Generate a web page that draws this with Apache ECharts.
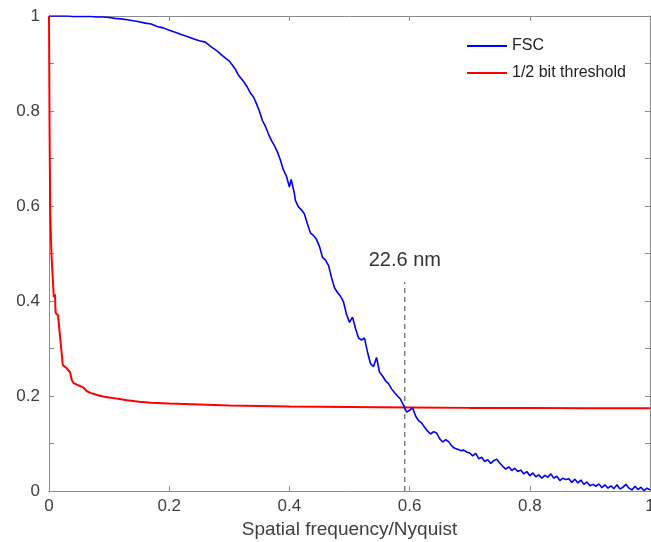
<!DOCTYPE html>
<html>
<head>
<meta charset="utf-8">
<script src="https://cdn.jsdelivr.net/npm/echarts@6.0.0/dist/echarts.min.js"></script>
<style>
  html, body { margin: 0; padding: 0; background: #fff; }
  #chart-container { width: 651px; height: 542px; }
</style>
</head>
<body>
<div id="chart-container"></div>
<script>
// FSC curve [spatial frequency / Nyquist, correlation]
var fscPoints = [
  [0, 1.000], [0.01, 1.000], [0.02, 1.000], [0.03, 1.000], [0.04, 0.999], [0.05, 0.999],
  [0.06, 0.999], [0.07, 0.999], [0.08, 0.998], [0.09, 0.998], [0.10, 0.997], [0.11, 0.995],
  [0.12, 0.994], [0.13, 0.992], [0.14, 0.990], [0.15, 0.988], [0.16, 0.985], [0.17, 0.983],
  [0.18, 0.978], [0.19, 0.975], [0.20, 0.970], [0.21, 0.966], [0.22, 0.961], [0.23, 0.957],
  [0.24, 0.952], [0.25, 0.948], [0.26, 0.945], [0.27, 0.935], [0.28, 0.926], [0.29, 0.915],
  [0.30, 0.905], [0.305, 0.897], [0.31, 0.888], [0.315, 0.876], [0.32, 0.868], [0.325, 0.860],
  [0.33, 0.850], [0.335, 0.838], [0.34, 0.830], [0.345, 0.816], [0.35, 0.800], [0.355, 0.780],
  [0.36, 0.768], [0.365, 0.752], [0.37, 0.738], [0.375, 0.727], [0.38, 0.714], [0.385, 0.697],
  [0.39, 0.676], [0.395, 0.663], [0.40, 0.640], [0.403, 0.656], [0.408, 0.628], [0.41, 0.612],
  [0.415, 0.598], [0.42, 0.592], [0.425, 0.583], [0.43, 0.562], [0.435, 0.543], [0.44, 0.538],
  [0.445, 0.530], [0.45, 0.515], [0.455, 0.492], [0.46, 0.486], [0.465, 0.475], [0.47, 0.450],
  [0.475, 0.428], [0.48, 0.418], [0.485, 0.410], [0.49, 0.398], [0.495, 0.372], [0.50, 0.355],
  [0.505, 0.366], [0.51, 0.342], [0.515, 0.322], [0.52, 0.318], [0.525, 0.322], [0.53, 0.292],
  [0.535, 0.268], [0.54, 0.262], [0.545, 0.281], [0.55, 0.250], [0.555, 0.242], [0.56, 0.232],
  [0.565, 0.226], [0.57, 0.215], [0.575, 0.207], [0.58, 0.200], [0.585, 0.193], [0.59, 0.180],
  [0.595, 0.166], [0.60, 0.170], [0.605, 0.175], [0.61, 0.158], [0.615, 0.148], [0.62, 0.143],
  [0.625, 0.134], [0.63, 0.126], [0.635, 0.120], [0.64, 0.125], [0.645, 0.122], [0.65, 0.110],
  [0.655, 0.103], [0.66, 0.108], [0.665, 0.104], [0.67, 0.095], [0.675, 0.090], [0.68, 0.088],
  [0.685, 0.085], [0.69, 0.086], [0.695, 0.082], [0.70, 0.080], [0.705, 0.074], [0.71, 0.079],
  [0.715, 0.068], [0.72, 0.071], [0.725, 0.062], [0.73, 0.066], [0.735, 0.058], [0.74, 0.064],
  [0.745, 0.067], [0.75, 0.059], [0.755, 0.052], [0.76, 0.046], [0.765, 0.051], [0.77, 0.043],
  [0.775, 0.048], [0.78, 0.041], [0.785, 0.044], [0.79, 0.036], [0.795, 0.041], [0.80, 0.032],
  [0.805, 0.038], [0.81, 0.030], [0.815, 0.034], [0.82, 0.027], [0.825, 0.033], [0.83, 0.029],
  [0.835, 0.036], [0.84, 0.027], [0.845, 0.031], [0.85, 0.022], [0.855, 0.027], [0.86, 0.024],
  [0.865, 0.026], [0.87, 0.018], [0.875, 0.025], [0.88, 0.017], [0.885, 0.023], [0.89, 0.014],
  [0.895, 0.019], [0.90, 0.011], [0.905, 0.014], [0.91, 0.010], [0.915, 0.015], [0.92, 0.007],
  [0.925, 0.013], [0.93, 0.006], [0.935, 0.011], [0.94, 0.005], [0.945, 0.013], [0.95, 0.004],
  [0.955, 0.008], [0.96, 0.014], [0.965, 0.006], [0.97, 0.002], [0.975, 0.010], [0.98, 0.003],
  [0.985, 0.008], [0.99, 0.001], [0.995, 0.006], [1.00, 0.002]
];

// 1/2 bit threshold curve
var thresholdPoints = [
  [0, 1.000], [0.001, 0.750], [0.002, 0.590], [0.004, 0.501], [0.008, 0.408], [0.010, 0.414],
  [0.011, 0.375], [0.015, 0.370], [0.023, 0.265], [0.029, 0.259], [0.035, 0.250], [0.038, 0.233],
  [0.041, 0.227], [0.050, 0.222], [0.057, 0.218], [0.063, 0.210], [0.07, 0.206], [0.08, 0.202],
  [0.09, 0.199], [0.10, 0.197], [0.11, 0.195], [0.12, 0.193], [0.13, 0.191], [0.15, 0.188],
  [0.17, 0.186], [0.20, 0.184], [0.25, 0.182], [0.30, 0.180], [0.40, 0.178], [0.50, 0.177],
  [0.60, 0.176], [0.70, 0.175], [0.80, 0.175], [0.90, 0.174], [1.00, 0.174]
];

// resolution cut-off marker
var cutoffX = 0.592;
var cutoffTop = 0.44;
var cutoffLabel = "22.6 nm";

var seriesNames = ["FSC", "1/2 bit threshold"];
var seriesColors = ["#0000ff", "#ff0000"];

var axisColor = "#8a8a8a";
var textColor = "#404040";
var font = "Liberation Sans, Arial, sans-serif";

var chart = echarts.init(document.getElementById("chart-container"), null, { renderer: "canvas" });

function baseAxis(extra) {
  var ax = {
    type: "value",
    min: 0,
    max: 1,
    interval: 0.2,
    axisLine: { show: true, onZero: false, lineStyle: { color: axisColor, width: 1 } },
    axisTick: { show: true, inside: true, length: 5, lineStyle: { color: axisColor } },
    splitLine: { show: false },
    axisLabel: { show: false }
  };
  return Object.assign(ax, extra);
}

var labelStyle = { show: true, color: textColor, fontSize: 17, fontFamily: font };

var option = {
  animation: false,
  backgroundColor: "#fff",
  grid: { left: 49, right: 1, top: 16, bottom: 51, outerBoundsMode: "none" },
  legend: {
    data: seriesNames,
    orient: "vertical",
    left: 467,
    top: 37,
    padding: 0,
    icon: "rect",
    itemWidth: 40,
    itemHeight: 2,
    itemGap: 9,
    itemStyle: { borderWidth: 0 },
    textStyle: { color: "#222", fontSize: 16, fontFamily: font, lineHeight: 18 }
  },
  xAxis: [
    baseAxis({
      position: "bottom",
      axisLabel: Object.assign({ margin: 7 }, labelStyle),
      name: "Spatial frequency/Nyquist",
      nameLocation: "middle",
      nameGap: 27,
      nameTextStyle: { color: textColor, fontSize: 19, fontFamily: font }
    }),
    baseAxis({ position: "top" })
  ],
  yAxis: [
    baseAxis({
      position: "left",
      axisLabel: Object.assign({ margin: 9 }, labelStyle),
      minorTick: { show: true, splitNumber: 2, length: 5, lineStyle: { color: axisColor } }
    }),
    baseAxis({
      position: "right",
      minorTick: { show: true, splitNumber: 2, length: 5, lineStyle: { color: axisColor } }
    })
  ],
  series: [
    {
      name: seriesNames[1],
      type: "line",
      data: thresholdPoints,
      showSymbol: false,
      color: seriesColors[1],
      lineStyle: { color: seriesColors[1], width: 2 },
      z: 3
    },
    {
      name: seriesNames[0],
      type: "line",
      data: fscPoints,
      showSymbol: false,
      color: seriesColors[0],
      lineStyle: { color: seriesColors[0], width: 1.6 },
      z: 4
    },
    {
      name: "cutoff",
      type: "line",
      data: [[cutoffX, 0], [cutoffX, cutoffTop]],
      showSymbol: false,
      symbol: "none",
      color: "#444",
      lineStyle: { color: "#444", width: 1, type: [5, 4] },
      z: 2
    },
    {
      name: "cutoffLabel",
      type: "scatter",
      data: [[cutoffX, cutoffTop]],
      symbolSize: 0,
      silent: true,
      itemStyle: { opacity: 1, color: "#333" },
      label: {
        show: true,
        position: "top",
        distance: 12,
        formatter: cutoffLabel,
        color: "#333",
        opacity: 1,
        fontSize: 20,
        fontFamily: font
      },
      z: 5
    }
  ]
};

chart.setOption(option);
</script>
</body>
</html>
